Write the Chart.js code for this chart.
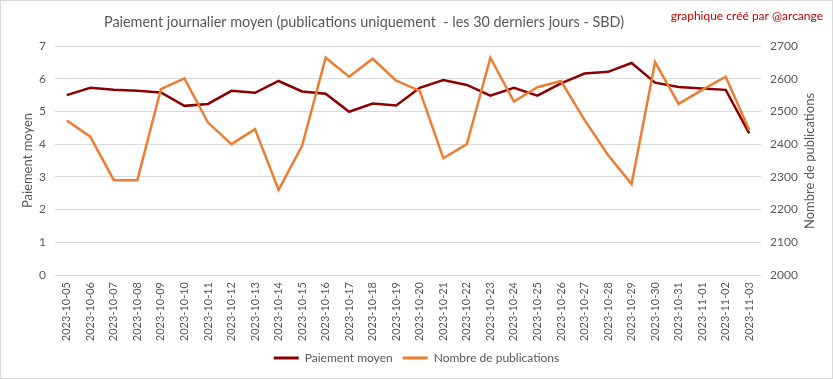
<!DOCTYPE html>
<html>
<head>
<meta charset="utf-8">
<script src="https://cdn.jsdelivr.net/npm/chart.js@4/dist/chart.umd.min.js"></script>
<style>
  html, body { margin: 0; padding: 0; background: #ffffff; }
  #wrap { width: 833px; height: 379px; position: relative; }
</style>
</head>
<body>
<div id="wrap"><canvas id="c" width="833" height="379"></canvas></div>
<script>
const categories = ["2023-10-05","2023-10-06","2023-10-07","2023-10-08","2023-10-09","2023-10-10","2023-10-11","2023-10-12","2023-10-13","2023-10-14","2023-10-15","2023-10-16","2023-10-17","2023-10-18","2023-10-19","2023-10-20","2023-10-21","2023-10-22","2023-10-23","2023-10-24","2023-10-25","2023-10-26","2023-10-27","2023-10-28","2023-10-29","2023-10-30","2023-10-31","2023-11-01","2023-11-02","2023-11-03"];
const paiementMoyen = [5.50,5.72,5.66,5.63,5.58,5.17,5.23,5.63,5.57,5.93,5.61,5.54,4.99,5.24,5.18,5.72,5.96,5.81,5.48,5.72,5.48,5.86,6.16,6.21,6.48,5.88,5.75,5.70,5.66,4.33];
const nombrePublications = [2472,2423,2290,2290,2568,2601,2466,2400,2446,2260,2395,2664,2606,2661,2594,2563,2357,2400,2664,2530,2574,2593,2474,2367,2278,2651,2523,2566,2606,2443];
const leftTicks = [0,1,2,3,4,5,6,7];
const rightTicks = [2000,2100,2200,2300,2400,2500,2600,2700];

const titleText = "Paiement journalier moyen (publications uniquement  - les 30 derniers jours - SBD)";
const creditText = "graphique créé par @arcange";
const leftAxisTitle = "Paiement moyen";
const rightAxisTitle = "Nombre de publications";
const FONT = "Lato, 'Open Sans', sans-serif";

const decor = {
  id: 'decor',
  beforeDraw(chart) {
    const ctx = chart.ctx;
    ctx.save();
    ctx.fillStyle = '#ffffff';
    ctx.fillRect(0, 0, chart.width, chart.height);
    ctx.restore();
  },
  afterDraw(chart) {
    const ctx = chart.ctx;
    ctx.save();
    ctx.strokeStyle = '#d9d9d9';
    ctx.lineWidth = 1;
    ctx.strokeRect(0.5, 0.5, chart.width - 1, chart.height - 1);
    ctx.fillStyle = '#595959';
    ctx.font = "14.4px " + FONT;
    ctx.textAlign = 'center';
    ctx.textBaseline = 'middle';
    ctx.fillText(titleText, 364, 22);
    ctx.fillStyle = '#c00000';
    ctx.font = "12px " + FONT;
    ctx.textAlign = 'right';
    ctx.fillText(creditText, 823, 16);
    ctx.fillStyle = '#595959';
    ctx.font = "13px " + FONT;
    ctx.textAlign = 'center';
    ctx.translate(810, 161);
    ctx.rotate(-Math.PI / 2);
    ctx.fillText(rightAxisTitle, 0, 0);
    ctx.restore();
  }
};

new Chart(document.getElementById('c'), {
  type: 'line',
  data: {
    labels: categories,
    datasets: [
      { label: 'Paiement moyen', data: paiementMoyen, yAxisID: 'y', borderColor: '#8b0000', backgroundColor: '#8b0000', borderWidth: 2.5, pointRadius: 0, tension: 0, order: 1 },
      { label: 'Nombre de publications', data: nombrePublications, yAxisID: 'y1', borderColor: '#ed7d31', backgroundColor: '#ed7d31', borderWidth: 2.5, pointRadius: 0, tension: 0, order: 0 }
    ]
  },
  options: {
    responsive: false,
    animation: false,
    layout: { padding: { top: 46, left: 0, right: 0, bottom: 5 } },
    plugins: {
      title: { display: false },
      tooltip: { enabled: false },
      legend: {
        position: 'bottom',
        labels: {
          color: '#595959', font: { family: FONT, size: 12 }, boxWidth: 25, boxHeight: 3, padding: 10,
          sort: (a, b) => a.datasetIndex - b.datasetIndex,
          generateLabels(chart) {
            return Chart.defaults.plugins.legend.labels.generateLabels(chart).map(l => Object.assign(l, { lineWidth: 0 }));
          }
        }
      }
    },
    scales: {
      x: {
        type: 'category',
        offset: true,
        grid: { display: false, drawTicks: false },
        border: { display: false },
        ticks: { color: '#595959', font: { family: FONT, size: 11 }, minRotation: 90, maxRotation: 90, autoSkip: false, padding: 7 },
        afterFit(s) { s.height = 67; }
      },
      y: {
        position: 'left',
        min: 0, max: 7,
        afterBuildTicks(s) { s.ticks = leftTicks.map(v => ({ value: v })); },
        grid: { color: '#d9d9d9', drawTicks: false, lineWidth: 1 },
        border: { display: false },
        ticks: { color: '#595959', font: { family: FONT, size: 12 }, padding: 9, callback: v => String(v) },
        title: { display: true, text: leftAxisTitle, color: '#595959', font: { family: FONT, size: 13 }, padding: { top: 20, bottom: 0 } },
        afterFit(s) { s.width = 55; }
      },
      y1: {
        position: 'right',
        min: 2000, max: 2700,
        afterBuildTicks(s) { s.ticks = rightTicks.map(v => ({ value: v })); },
        grid: { display: false, drawTicks: false },
        border: { display: false },
        ticks: { color: '#595959', font: { family: FONT, size: 12 }, padding: 9, callback: v => String(v) },
        afterFit(s) { s.width = 72; }
      }
    }
  },
  plugins: [decor]
});
</script>
</body>
</html>
